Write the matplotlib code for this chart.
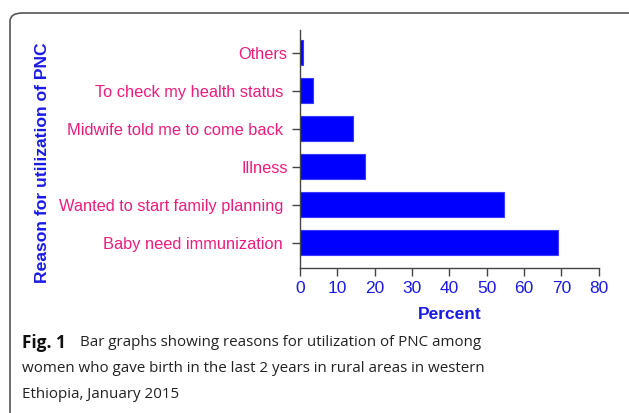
import matplotlib
matplotlib.use('Agg')
import matplotlib.pyplot as plt
from matplotlib.patches import FancyBboxPatch

reasons = ['Baby need immunization ', 'Wanted to start family planning ', 'Illness',
           'Midwife told me to come back ', 'To check my health status ', 'Others']
percent = [69.2, 54.6, 17.5, 14.1, 3.6, 0.7]
xticks = [0, 10, 20, 30, 40, 50, 60, 70, 80]

BLUE = '#0000ff'
PINK = '#ec1c7c'
LABEL_BLUE = '#1a1ae6'

plt.rcParams['font.family'] = ['Liberation Sans', 'DejaVu Sans']

fig = plt.figure(figsize=(6.29, 4.13), dpi=100)
ax = fig.add_axes([0.477, 0.351, 0.475, 0.576])

ypos = list(range(len(reasons)))
ax.barh(ypos, percent, height=0.66, color=BLUE, edgecolor='#3a3aff', linewidth=0.8)

ax.set_xlim(0, 80)
ax.set_ylim(-0.66, 5.6)
ax.set_xticks(xticks)
ax.set_xticklabels([str(t) for t in xticks], color=LABEL_BLUE, fontsize=12.5)
ax.set_yticks(ypos)
ax.set_yticklabels(reasons, color=PINK, fontsize=11.8)
ax.tick_params(axis='both', length=6, width=1, color='#444444', pad=3)

for s in ['top', 'right']:
    ax.spines[s].set_visible(False)
for s in ['left', 'bottom']:
    ax.spines[s].set_color('#444444')
    ax.spines[s].set_linewidth(1)

ax.set_xlabel('Percent', color=LABEL_BLUE, fontsize=12.5, fontweight='bold', labelpad=8)
fig.text(0.068, 0.607, 'Reason for utilization of PNC', rotation=90, color=LABEL_BLUE,
         fontsize=12.6, fontweight='bold', ha='center', va='center')

# rounded frame around the figure panel
frame = FancyBboxPatch((10 / 629, -0.05), 1.2, 1 - 13 / 413 + 0.05,
                       boxstyle='round,pad=0,rounding_size=0.02',
                       transform=fig.transFigure, facecolor='none',
                       edgecolor='#555555', linewidth=1.2, clip_on=False)
fig.patches.append(frame)

# caption
cap_font = ['Open Sans', 'DejaVu Sans']
fs = 10.9
fig.canvas.draw()
renderer = fig.canvas.get_renderer()
y1 = 1 - 343 / 413
fig_label = fig.text(22 / 629, y1, 'Fig. 1', fontsize=fs + 1.5, fontweight='bold',
                     family=cap_font, va='center', color='#111111')
bb = fig_label.get_window_extent(renderer)
x_after = (bb.x1 + 14) / fig.bbox.width
fig.text(x_after, y1, 'Bar graphs showing reasons for utilization of PNC among',
         fontsize=fs, family=cap_font, va='center', color='#222222')
fig.text(22 / 629, 1 - 369 / 413,
         'women who gave birth in the last 2 years in rural areas in western',
         fontsize=fs, family=cap_font, va='center', color='#222222')
fig.text(22 / 629, 1 - 395 / 413, 'Ethiopia, January 2015',
         fontsize=fs, family=cap_font, va='center', color='#222222')

fig.savefig('out.png', dpi=100)
